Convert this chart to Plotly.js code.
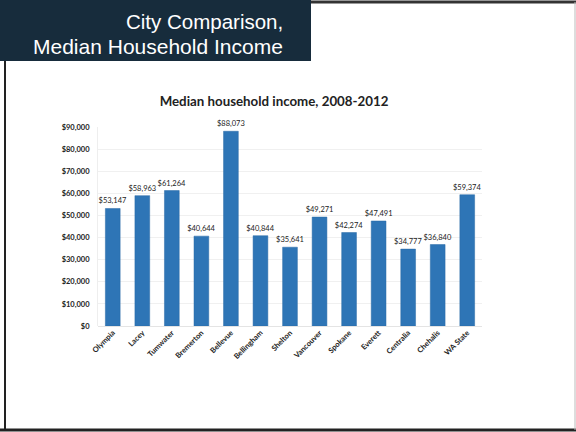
<!DOCTYPE html>
<html>
<head>
<meta charset="utf-8">
<script src="https://cdn.plot.ly/plotly-3.0.1.min.js"></script>
<style>
html,body{margin:0;padding:0;background:#fff;}
#chart{width:576px;height:432px;}
</style>
</head>
<body>
<div id="chart"></div>
<script>
const cities = ["Olympia","Lacey","Tumwater","Bremerton","Bellevue","Bellingham","Shelton","Vancouver","Spokane","Everett","Centralia","Chehalis","WA State"];
const incomes = [53147,58963,61264,40644,88073,40844,35641,49271,42274,47491,34777,36840,59374];
const tickValues = [0,10000,20000,30000,40000,50000,60000,70000,80000,90000];
const tickLabels = ["$0","$10,000","$20,000","$30,000","$40,000","$50,000","$60,000","$70,000","$80,000","$90,000"];
const chartTitle = "Median household income, 2008-2012";
const slideTitle = ["City Comparison,","Median Household Income"];

const W = 576, H = 432;
const px = x => x / W;
const py = y => 1 - y / H;

const barLabels = incomes.map(v => "$" + v.toLocaleString("en-US"));

const trace = {
  type: "bar",
  x: cities,
  y: incomes,
  text: barLabels,
  textposition: "outside",
  constraintext: "none",
  cliponaxis: false,
  textfont: {family: "Lato, 'Liberation Sans', sans-serif", size: 7.5, color: "#222"},
  marker: {color: "#2e75b6", line: {color: "#2a6aa6", width: 0.5}},
  hoverinfo: "skip"
};

const layout = {
  width: W, height: H,
  margin: {l: 0, r: 0, t: 0, b: 0},
  paper_bgcolor: "#ffffff",
  plot_bgcolor: "#ffffff",
  showlegend: false,
  bargap: 0.5,
  title: {
    text: "<b>" + chartTitle + "</b>",
    x: px(274), xanchor: "center",
    y: py(101), yanchor: "middle",
    font: {family: "Lato, 'Liberation Sans', sans-serif", size: 13.3, color: "#222"}
  },
  xaxis: {
    domain: [px(98), px(482)],
    tickangle: -45,
    tickfont: {family: "Lato, 'Liberation Sans', sans-serif", size: 7.5, color: "#222", weight: "bold"},
    showline: false,
    ticks: "",
    fixedrange: true
  },
  yaxis: {
    domain: [py(326), py(127)],
    range: [0, 90000],
    tickvals: tickValues,
    ticktext: tickLabels,
    tickfont: {family: "Lato, 'Liberation Sans', sans-serif", size: 7.5, color: "#222", weight: "bold"},
    showgrid: true,
    gridcolor: "#f0f0f0",
    gridwidth: 1,
    zeroline: true,
    zerolinecolor: "#e4e4e4",
    showline: true,
    linecolor: "#eeeeee",
    ticks: "",
    ticklabelstandoff: 6,
    fixedrange: true
  },
  shapes: [
    {type: "rect", xref: "paper", yref: "paper", x0: px(0), x1: px(311), y0: py(61), y1: py(0),
     fillcolor: "#172c3c", line: {width: 0}, layer: "below"},
    {type: "line", xref: "paper", yref: "paper", x0: px(311), x1: px(576), y0: py(2), y1: py(2),
     line: {color: "#333", width: 3}},
    {type: "line", xref: "paper", yref: "paper", x0: px(5), x1: px(5), y0: py(61), y1: py(430),
     line: {color: "#222", width: 2}},
    {type: "line", xref: "paper", yref: "paper", x0: px(0), x1: px(576), y0: py(430), y1: py(430),
     line: {color: "#222", width: 3}},
    {type: "line", xref: "paper", yref: "paper", x0: px(575), x1: px(575), y0: py(2), y1: py(430),
     line: {color: "#bbb", width: 1}}
  ],
  annotations: [
    {text: slideTitle[0], xref: "paper", yref: "paper", x: px(285), y: py(21), xanchor: "right", yanchor: "middle",
     showarrow: false, font: {family: "'Liberation Sans', Arial, sans-serif", size: 20.5, color: "#ffffff"}},
    {text: slideTitle[1], xref: "paper", yref: "paper", x: px(285), y: py(46), xanchor: "right", yanchor: "middle",
     showarrow: false, font: {family: "'Liberation Sans', Arial, sans-serif", size: 21, color: "#ffffff"}}
  ]
};

Plotly.newPlot("chart", [trace], layout, {displayModeBar: false, staticPlot: true});
</script>
</body>
</html>
